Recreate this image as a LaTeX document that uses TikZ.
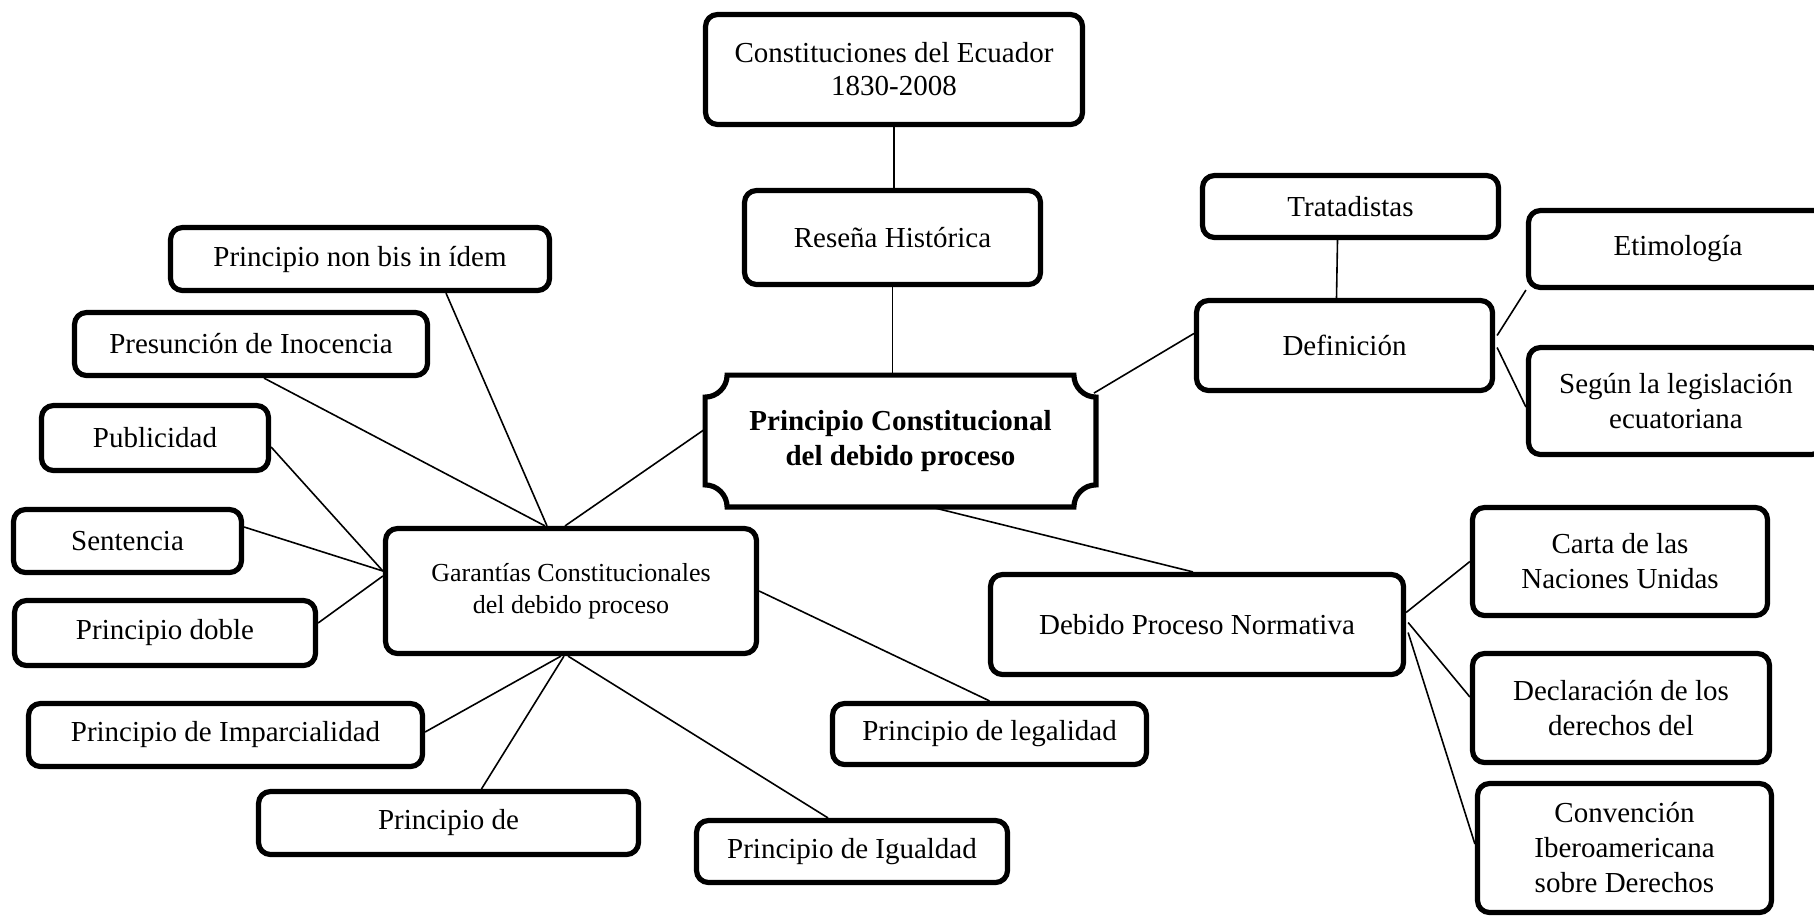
\documentclass[tikz,border=0pt]{standalone}
\usepackage{fontspec}
\setmainfont{Liberation Serif}
\usetikzlibrary{calc}
\begin{document}
\begin{tikzpicture}[x=0.5pt,y=-0.5pt,
  box/.style={draw, line width=2.6pt, rounded corners=6pt, inner sep=0pt, align=center,
              font=\fontsize{14.5}{17.5}\selectfont},
  conn/.style={line width=0.8pt},
  plaque/.style={line width=2.6pt}
]
\useasboundingbox (0,0) rectangle (1814,916);
\clip (0,0) rectangle (1814,916);

% nodes
\node[box, minimum width=188.5pt, minimum height=55pt, font=\fontsize{14.5}{16.5}\selectfont] (const) at (894,69.5) {Constituciones del Ecuador\\1830-2008};
\node[box, minimum width=148pt, minimum height=47pt] (res) at (892.5,237.5) {Reseña Histórica};
\node[inner sep=0pt, align=center, minimum width=195pt, minimum height=65.5pt, font=\fontsize{14.5}{17.5}\selectfont\bfseries] (cen) at (900.5,441) {Principio Constitucional\\del debido proceso};
\draw[plaque] ($(cen.north west)+(22,0)$) -- ($(cen.north east)+(-22,0)$)
  .. controls ($(cen.north east)+(-22,12)$) and ($(cen.north east)+(-12,22)$) .. ($(cen.north east)+(0,22)$)
  -- ($(cen.south east)+(0,-22)$)
  .. controls ($(cen.south east)+(-12,-22)$) and ($(cen.south east)+(-22,-12)$) .. ($(cen.south east)+(-22,0)$)
  -- ($(cen.south west)+(22,0)$)
  .. controls ($(cen.south west)+(22,-12)$) and ($(cen.south west)+(12,-22)$) .. ($(cen.south west)+(0,-22)$)
  -- ($(cen.north west)+(0,22)$)
  .. controls ($(cen.north west)+(12,22)$) and ($(cen.north west)+(22,12)$) .. ($(cen.north west)+(22,0)$)
  -- cycle;

\node[box, minimum width=148pt, minimum height=31pt] (trat) at (1350.5,206.5) {Tratadistas};
\node[box, minimum width=148pt, minimum height=45pt] (def) at (1344.5,345.5) {Definición};
\node[box, minimum width=149.5pt, minimum height=38.5pt] (etim) at (1678,249) {Etimología};
\node[box, minimum width=147.5pt, minimum height=53.5pt] (seg) at (1676,401) {Según la legislación\\ecuatoriana};

\node[box, minimum width=189.5pt, minimum height=31.5pt] (nonbis) at (360,259) {Principio non bis in ídem};
\node[box, minimum width=176.5pt, minimum height=31.5pt] (pres) at (251,344) {Presunción de Inocencia};
\node[box, minimum width=113.5pt, minimum height=32.5pt] (pub) at (155,438) {Publicidad};
\node[box, minimum width=114pt, minimum height=31.5pt] (sent) at (127.5,541) {Sentencia};
\node[box, minimum width=150.5pt, minimum height=32.5pt] (doble) at (165,633) {Principio doble};
\node[box, minimum width=185.5pt, minimum height=62.5pt, font=\fontsize{13}{16}\selectfont] (gar) at (571,591) {Garantías Constitucionales\\del debido proceso};
\node[box, minimum width=197pt, minimum height=31.5pt] (impar) at (225.5,735) {Principio de Imparcialidad};
\node[box, minimum width=190pt, minimum height=31.5pt] (pde) at (448.5,823) {Principio de};
\node[box, minimum width=155.5pt, minimum height=31pt] (igual) at (852,851.5) {Principio de Igualdad};
\node[box, minimum width=157pt, minimum height=30.5pt] (legal) at (989.5,734) {Principio de legalidad};

\node[box, minimum width=206.5pt, minimum height=50pt] (deb) at (1197,624.5) {Debido Proceso Normativa};
\node[box, minimum width=147.5pt, minimum height=54pt] (carta) at (1620,561.5) {Carta de las\\Naciones Unidas};
\node[box, minimum width=148.5pt, minimum height=54.5pt] (decl) at (1621,708) {Declaración de los\\derechos del};
\node[box, minimum width=147pt, minimum height=64.5pt] (conv) at (1624.5,848) {Convención\\Iberoamericana\\sobre Derechos};

% connectors
\draw[conn] (const.south) -- (const.south |- res.north);
\draw[conn] (res.south) -- (res.south |- cen.north);
\draw[conn] ($(cen.north east)+(-2,18)$) -- ($(def.west)+(0,-12)$);
\draw[conn] ($(trat.south)+(-13,0)$) -- ($(def.north)+(-8,0)$);
\draw[conn] ($(def.east)+(2,-10)$) -- (etim.south west);
\draw[conn] ($(def.east)+(2,2)$) -- ($(seg.west)+(0,6)$);
\draw[conn] ($(cen.west)+(0,-12)$) -- ($(gar.north)+(-6,0)$);
\draw[conn] ($(nonbis.south)+(86,0)$) -- ($(gar.north)+(-24,0)$);
\draw[conn] ($(pres.south)+(13,0)$) -- ($(gar.north)+(-26,0)$);
\draw[conn] ($(pub.east)+(0,9)$) -- ($(gar.west)+(0,-20)$);
\draw[conn] ($(sent.east)+(0,-14)$) -- ($(gar.west)+(0,-20)$);
\draw[conn] ($(doble.east)+(0,-10)$) -- ($(gar.west)+(0,-15)$);
\draw[conn] ($(gar.south)+(-10,0)$) -- ($(impar.east)+(0,-3)$);
\draw[conn] ($(gar.south)+(-7,0)$) -- ($(pde.north)+(33,0)$);
\draw[conn] ($(gar.south)+(-3,0)$) -- ($(igual.north)+(-24,0)$);
\draw[conn] (gar.east) -- (legal.north);
\draw[conn] ($(cen.south)+(30,0)$) -- ($(deb.north)+(-4,0)$);
\draw[conn] ($(deb.east)+(0,-12)$) -- (carta.west);
\draw[conn] ($(deb.east)+(2,-2)$) -- ($(decl.west)+(0,-11)$);
\draw[conn] ($(deb.east)+(2,8)$) -- ($(conv.west)+(0,-4)$);
\end{tikzpicture}
\end{document}
